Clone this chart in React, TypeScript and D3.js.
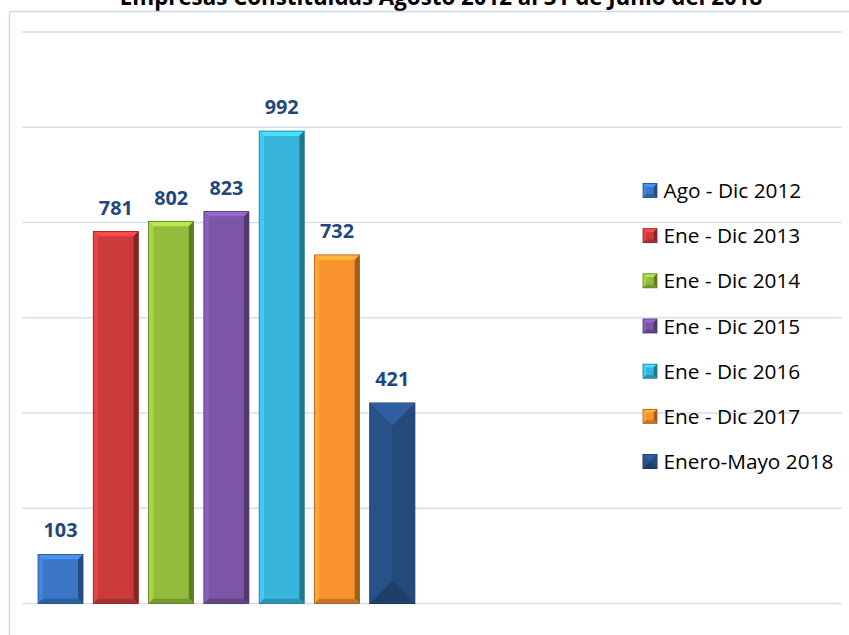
import React from "react";
import * as d3 from "d3";

const title = "Empresas Constituidas Agosto 2012 al 31 de Junio del 2018";
const series = [
  "Ago - Dic 2012",
  "Ene - Dic 2013",
  "Ene - Dic 2014",
  "Ene - Dic 2015",
  "Ene  - Dic 2016",
  "Ene - Dic 2017",
  "Enero-Mayo 2018",
];
const values = [103, 781, 802, 823, 992, 732, 421];
const colors = ["#3B76C6", "#CC3B3B", "#94BC3C", "#7B55A6", "#37B5DA", "#F7922E", "#264D82"];
const yTicks = [0, 200, 400, 600, 800, 1000, 1200];

const W = 849;
const H = 635;
const FONT = "'Open Sans', Lato, 'Liberation Sans', sans-serif";

function Bevel({ x, y, w, h, c, pyramid }: { x: number; y: number; w: number; h: number; c: string; pyramid?: boolean }) {
  const base = d3.color(c)!;
  const light = base.brighter(0.35).toString();
  const lighter = base.brighter(0.6).toString();
  const dark = base.darker(0.6).toString();
  const darker = base.darker(1.2).toString();
  if (pyramid) {
    const cx = x + w / 2;
    const t = Math.min(w / 2, h / 2);
    return (
      <g>
        <rect x={x} y={y} width={w} height={h} fill={c} stroke={darker} strokeWidth={1} />
        <polygon points={`${x},${y} ${cx},${y + t} ${cx},${y + h - t} ${x},${y + h}`} fill={base.brighter(0.15).toString()} />
        <polygon points={`${x + w},${y} ${cx},${y + t} ${cx},${y + h - t} ${x + w},${y + h}`} fill={base.darker(0.15).toString()} />
        <polygon points={`${x},${y} ${x + w},${y} ${cx},${y + t}`} fill={lighter} />
        <polygon points={`${x},${y + h} ${x + w},${y + h} ${cx},${y + h - t}`} fill={dark} />
      </g>
    );
  }
  const b = Math.min(5, w / 4, h / 4);
  const x2 = x + w;
  const y2 = y + h;
  return (
    <g>
      <rect x={x} y={y} width={w} height={h} fill={c} />
      <polygon points={`${x},${y} ${x2},${y} ${x2 - b},${y + b} ${x + b},${y + b}`} fill={lighter} />
      <polygon points={`${x},${y} ${x + b},${y + b} ${x + b},${y2 - b} ${x},${y2}`} fill={light} />
      <polygon points={`${x2},${y} ${x2},${y2} ${x2 - b},${y2 - b} ${x2 - b},${y + b}`} fill={darker} />
      <polygon points={`${x},${y2} ${x2},${y2} ${x2 - b},${y2 - b} ${x + b},${y2 - b}`} fill={dark} />
      <rect x={x + b} y={y + b} width={w - 2 * b} height={h - 2 * b} fill={c} />
      <rect x={x} y={y} width={w} height={h} fill="none" stroke={darker} strokeWidth={0.8} />
    </g>
  );
}

export default function App() {
  const y = d3.scaleLinear().domain([0, 1200]).range([603.5, 32]);
  const x = d3.scaleBand<string>().domain(series).range([38, 414.8]).paddingInner(0.186).paddingOuter(0);
  const legendY = d3.scalePoint<string>().domain(series).range([190.5, 461.5]);

  return (
    <svg width={W} height={H} style={{ position: "absolute", left: 0, top: 0 }}>
      <rect x={0} y={0} width={W} height={H} fill="#fff" />
      <text x={441} y={5} textAnchor="middle" fontFamily={FONT} fontWeight="bold" fontSize={22.3} fill="#000">
        {title}
      </text>
      <line x1={9.5} y1={11.5} x2={W} y2={11.5} stroke="#C9D9EE" strokeWidth={1.5} />
      <line x1={9.5} y1={11.5} x2={9.5} y2={H} stroke="#C9D9EE" strokeWidth={1.5} />
      {yTicks.map((t) => (
        <line key={t} x1={22} x2={842} y1={y(t)} y2={y(t)} stroke="#D3DFF0" strokeWidth={1.5} />
      ))}
      {series.map((s, i) => (
        <Bevel key={s} x={x(s)!} y={y(values[i])} w={x.bandwidth()} h={y(0) - y(values[i])} c={colors[i]} pyramid={i === 6} />
      ))}
      {series.map((s, i) => (
        <text
          key={s}
          x={x(s)! + x.bandwidth() / 2}
          y={y(values[i]) - 17}
          textAnchor="middle"
          fontFamily={FONT}
          fontWeight="bold"
          fontSize={19.8}
          fill="#1F477D"
        >
          {values[i]}
        </text>
      ))}
      {series.map((s, i) => (
        <g key={s} transform={`translate(643,${legendY(s)! - 7})`}>
          <Bevel x={0} y={0} w={14} h={14} c={colors[i]} pyramid={i === 6} />
          <text x={20.5} y={7} dy="0.36em" fontFamily={FONT} fontSize={20.8} fill="#000">
            {s}
          </text>
        </g>
      ))}
    </svg>
  );
}
